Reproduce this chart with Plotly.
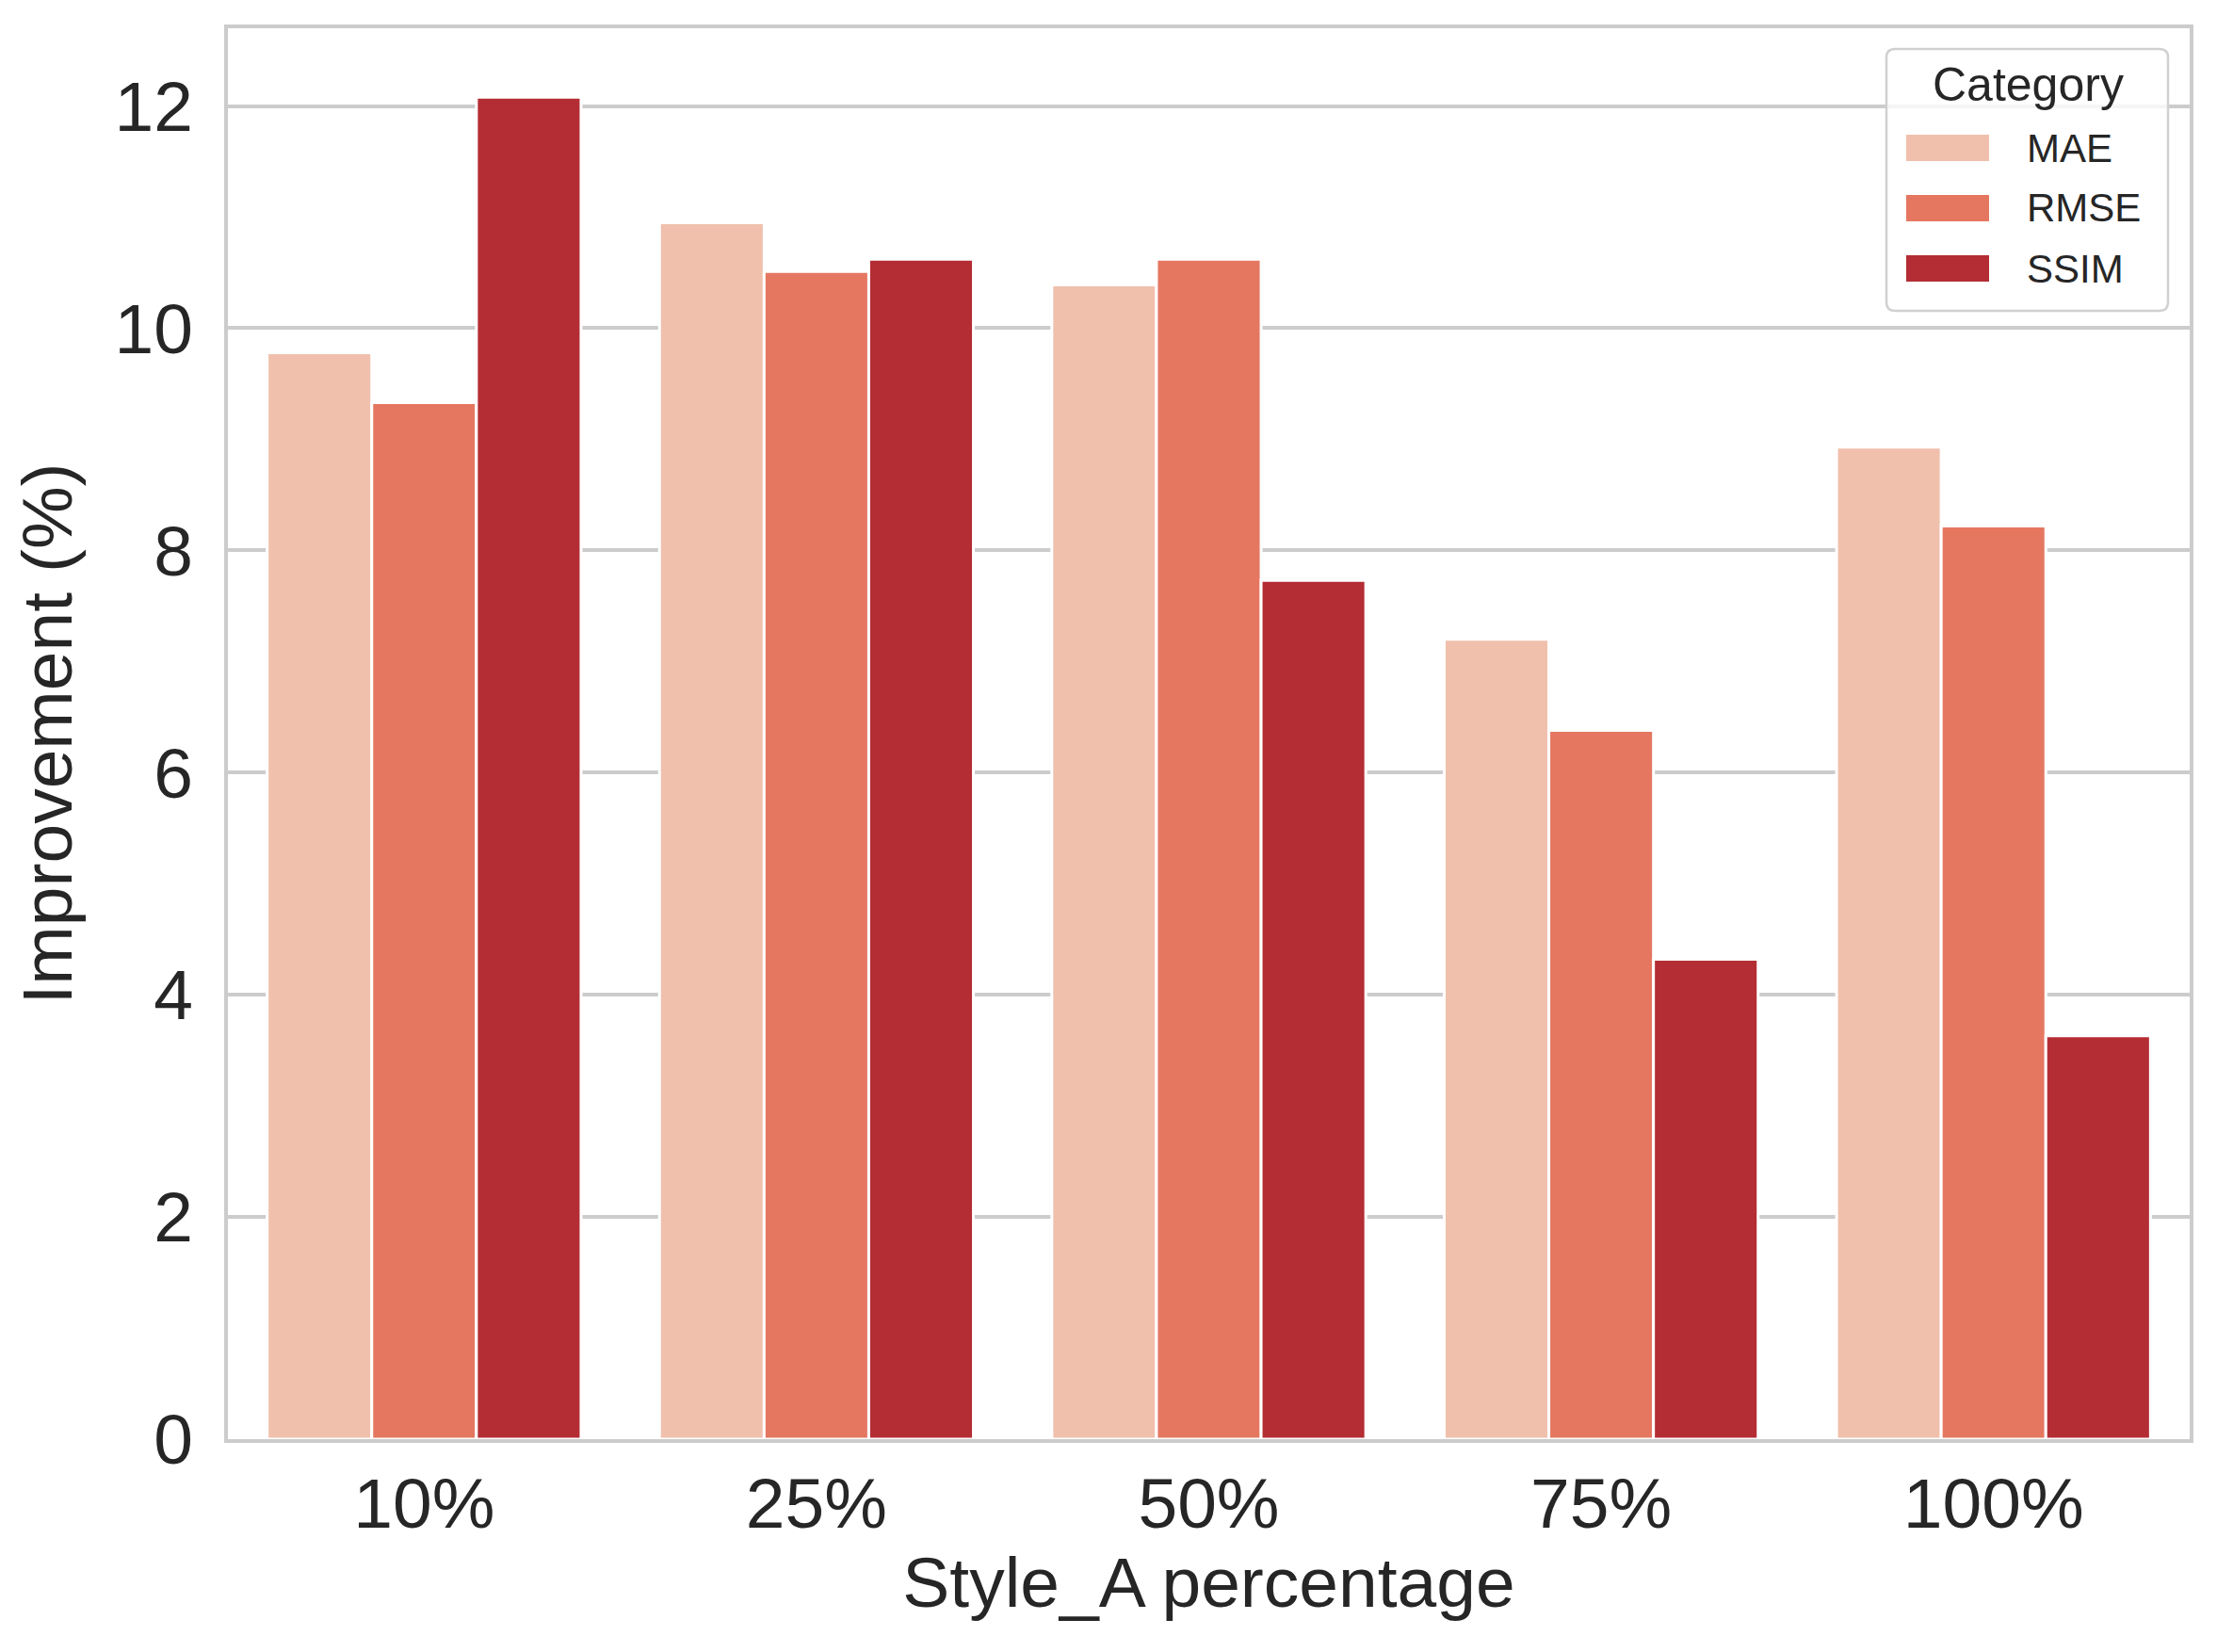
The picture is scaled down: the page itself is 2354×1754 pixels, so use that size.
import plotly.graph_objects as go

# ---- data ----
categories = ["10%", "25%", "50%", "75%", "100%"]
series_names = ["MAE", "RMSE", "SSIM"]
mae = [9.78, 10.95, 10.39, 7.20, 8.93]
rmse = [9.33, 10.51, 10.62, 6.38, 8.22]
ssim = [12.08, 10.62, 7.73, 4.32, 3.63]
y_ticks = [0, 2, 4, 6, 8, 10, 12]

colors = ["#F0C0AD", "#E57761", "#B42D34"]
FONT = "Liberation Sans, Arial, Helvetica, sans-serif"
TEXT = "#262626"
GRID = "#cccccc"

W, H = 2354, 1754
OFF = 8  # default browser body margin
PL, PR, PT, PB = 242, 2325, 30, 1528   # plot area in page pixels
PW, PH = PR - PL, PB - PT
L, T = PL - OFF, PT - OFF
R, B = W - L - PW, H - T - PH

fig = go.Figure()
for name, vals, col in zip(series_names, [mae, rmse, ssim], colors):
    fig.add_trace(go.Bar(
        x=categories, y=vals, name=name,
        marker=dict(color=col, line=dict(color="white", width=3)),
        showlegend=False,
    ))

fig.update_layout(
    width=W, height=H,
    margin=dict(l=L, r=R, t=T, b=B, pad=0),
    paper_bgcolor="white", plot_bgcolor="white",
    barmode="group", bargap=0.2, bargroupgap=0,
    font=dict(family=FONT, color=TEXT, size=75),
)
fig.update_xaxes(
    type="category", range=[-0.5, 4.5],
    showline=True, mirror=True, linecolor=GRID, linewidth=4,
    showgrid=False, ticks="", ticklabelstandoff=0,
    tickfont=dict(size=75, family=FONT, color=TEXT),
    title=dict(text="Style_A percentage", font=dict(size=75, family=FONT, color=TEXT), standoff=16),
)
fig.update_yaxes(
    range=[0, 12.70], tickvals=y_ticks, ticktext=[str(v) for v in y_ticks],
    showline=True, mirror=True, linecolor=GRID, linewidth=4,
    showgrid=True, gridcolor=GRID, gridwidth=3.5, zeroline=False,
    ticks="", ticklabelstandoff=18,
    tickfont=dict(size=75, family=FONT, color=TEXT),
    title=dict(text="Improvement (%)", font=dict(size=75, family=FONT, color=TEXT), standoff=30),
)

# ---- legend (drawn as matplotlib-style box) ----
def px_x(x):
    return (x - PL) / PW

def px_y(y):
    return (PB - y) / PH

bx0, bx1, by0, by1 = 2003, 2302, 52, 330
r = 9
path = (
    f"M {px_x(bx0 + r)},{px_y(by0)} L {px_x(bx1 - r)},{px_y(by0)} "
    f"Q {px_x(bx1)},{px_y(by0)} {px_x(bx1)},{px_y(by0 + r)} "
    f"L {px_x(bx1)},{px_y(by1 - r)} Q {px_x(bx1)},{px_y(by1)} {px_x(bx1 - r)},{px_y(by1)} "
    f"L {px_x(bx0 + r)},{px_y(by1)} Q {px_x(bx0)},{px_y(by1)} {px_x(bx0)},{px_y(by1 - r)} "
    f"L {px_x(bx0)},{px_y(by0 + r)} Q {px_x(bx0)},{px_y(by0)} {px_x(bx0 + r)},{px_y(by0)} Z"
)
fig.add_shape(type="path", path=path, xref="paper", yref="paper",
              fillcolor="rgba(255,255,255,0.8)", line=dict(color="#d0d0d0", width=2.5),
              layer="above")
fig.add_annotation(x=px_x(2153), y=px_y(90), xref="paper", yref="paper",
                   text="Category", showarrow=False, xanchor="center", yanchor="middle",
                   font=dict(size=50, family=FONT, color=TEXT))
for i, (name, col) in enumerate(zip(series_names, colors)):
    cy = 157 + 64 * i
    fig.add_shape(type="rect", xref="paper", yref="paper",
                  x0=px_x(2024), x1=px_x(2112), y0=px_y(cy - 14), y1=px_y(cy + 14),
                  fillcolor=col, line=dict(width=0), layer="above")
    fig.add_annotation(x=px_x(2150), y=px_y(cy), xref="paper", yref="paper",
                       text=name, showarrow=False, xanchor="left", yanchor="middle",
                       font=dict(size=42, family=FONT, color=TEXT))

fig.write_html("out.html")
